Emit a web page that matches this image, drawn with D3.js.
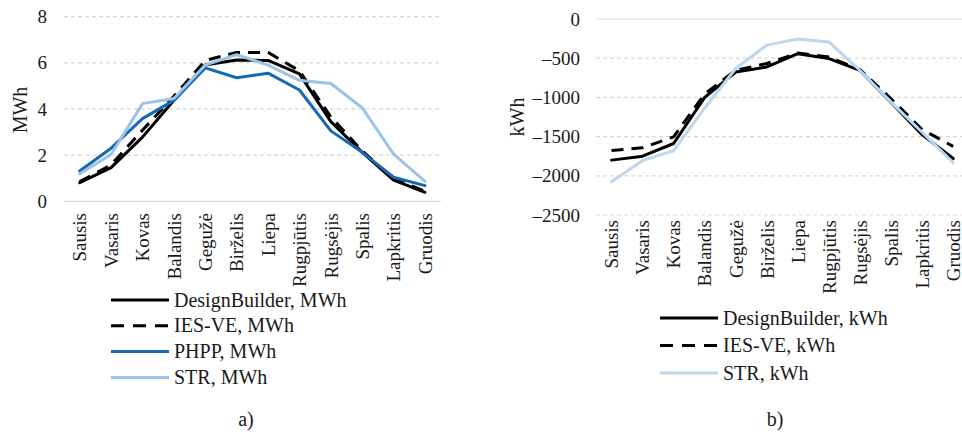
<!DOCTYPE html>
<html>
<head>
<meta charset="utf-8">
<script src="https://cdn.jsdelivr.net/npm/d3@7"></script>
<style>
  html, body { margin: 0; padding: 0; background: #fff; }
  svg { display: block; }
  #chart text { font-family: "Liberation Serif", serif !important; }
</style>
</head>
<body>
<svg id="chart" width="962" height="434"></svg>
<script>
// Month categories shared by both panels
const months = ["Sausis", "Vasaris", "Kovas", "Balandis", "Gegužė", "Birželis",
                "Liepa", "Rugpjūtis", "Rugsėjis", "Spalis", "Lapkritis", "Gruodis"];

// Panel a) monthly energy, MWh
const heatDesignBuilder = [0.81, 1.46, 2.78, 4.38, 5.90, 6.12, 6.10, 5.52, 3.45, 2.12, 0.92, 0.39];
const heatIESVE         = [0.85, 1.58, 3.08, 4.55, 6.10, 6.45, 6.45, 5.65, 3.66, 2.18, 0.97, 0.44];
const heatPHPP          = [1.31, 2.30, 3.58, 4.37, 5.78, 5.35, 5.55, 4.82, 3.05, 2.12, 1.04, 0.68];
const heatSTR           = [1.19, 2.03, 4.23, 4.45, 5.90, 6.35, 5.90, 5.24, 5.10, 4.05, 2.04, 0.86];
const heatTicks = [0, 2, 4, 6, 8];

// Panel b) monthly energy, kWh
const coolDesignBuilder = [-1800, -1750, -1588, -1000, -676, -612, -442, -505, -655, -1065, -1475, -1780];
const coolIESVE         = [-1676, -1643, -1503, -955, -654, -568, -435, -485, -645, -1017, -1410, -1625];
const coolSTR           = [-2076, -1804, -1680, -1135, -632, -333, -254, -292, -657, -1060, -1445, -1832];
const coolTicks = [0, -500, -1000, -1500, -2000, -2500];

const FONT = "Liberation Serif";
const TEXT = "#1a1a1a";

const svg = d3.select("#chart");

const styles = {
  db:   { color: "#000000", dash: null },
  ies:  { color: "#000000", dash: "12,8" },
  phpp: { color: "#1769b3", dash: null },
  strA: { color: "#9dc3e6", dash: null },
  strB: { color: "#bdd7ee", dash: null }
};

function setFont(sel, size) {
  sel.attr("font-family", null)
     .style("font-family", FONT)
     .style("font-size", size + "px")
     .attr("fill", TEXT);
}

function panel(cfg) {
  const g = svg.append("g");
  const x = d3.scalePoint().domain(months).range(cfg.xRange).padding(0.5);
  const y = d3.scaleLinear().domain(cfg.yDomain).range(cfg.yRange);

  // horizontal gridlines
  g.selectAll("line.grid").data(cfg.ticks).join("line")
    .attr("x1", cfg.xRange[0]).attr("x2", Math.min(cfg.xRange[1], 962))
    .attr("y1", d => y(d)).attr("y2", d => y(d))
    .attr("stroke", "#d9d9d9").attr("stroke-width", 1.2)
    .attr("stroke-dasharray", d => d === cfg.solidAt ? null : "4,3");

  // y axis labels
  const yAxis = d3.axisLeft(y).tickValues(cfg.ticks).tickSize(0).tickPadding(0)
    .tickFormat(d => d < 0 ? "\u2013" + Math.abs(d) : String(d));
  const ya = g.append("g").attr("transform", `translate(${cfg.tickX},0)`).call(yAxis);
  ya.attr("font-family", null).attr("font-size", null);
  ya.select(".domain").remove();
  setFont(ya.selectAll("text"), 19);

  // x category labels (rotated)
  const xAxis = d3.axisBottom(x).tickSize(0).tickPadding(0);
  const xa = g.append("g").attr("transform", `translate(0,${cfg.catY})`).call(xAxis);
  xa.attr("font-family", null).attr("font-size", null);
  xa.select(".domain").remove();
  setFont(xa.selectAll("text"), 19);
  xa.selectAll("text")
    .attr("text-anchor", "end")
    .attr("transform", "rotate(-90)")
    .attr("x", 0).attr("y", 0).attr("dy", "0.33em");

  // axis title
  setFont(g.append("text")
    .attr("transform", `translate(${cfg.titleX},${cfg.titleY}) rotate(-90)`)
    .attr("text-anchor", "middle").attr("dy", "0.33em")
    .text(cfg.title), 20);

  // series lines
  const line = d3.line().x((d, i) => x(months[i])).y(d => y(d));
  cfg.series.forEach(s => {
    g.append("path").datum(s.values)
      .attr("d", line)
      .attr("fill", "none")
      .attr("stroke", s.style.color)
      .attr("stroke-width", 3)
      .attr("stroke-linejoin", "round")
      .attr("stroke-linecap", s.style.dash ? "butt" : "round")
      .attr("stroke-dasharray", s.style.dash);
  });

  // legend
  const lg = g.append("g");
  cfg.series.forEach((s, i) => {
    const yy = cfg.legendY + i * cfg.legendStep;
    lg.append("line")
      .attr("x1", cfg.legendX).attr("x2", cfg.legendX + 58)
      .attr("y1", yy).attr("y2", yy)
      .attr("stroke", s.style.color).attr("stroke-width", 3)
      .attr("stroke-dasharray", s.style.dash ? "13,9" : null);
    setFont(lg.append("text")
      .attr("x", cfg.legendX + 63).attr("y", yy).attr("dy", "0.33em")
      .text(s.name), 20);
  });

  // panel caption
  setFont(g.append("text")
    .attr("x", cfg.capX).attr("y", cfg.capY).attr("dy", "0.33em")
    .attr("text-anchor", "middle")
    .text(cfg.caption), 20);
}

panel({
  xRange: [64, 440.7],
  yDomain: [0, 8], yRange: [201.3, 16.6],
  ticks: heatTicks, solidAt: 0,
  tickX: 47, catY: 213,
  title: "MWh", titleX: 20, titleY: 110,
  series: [
    { name: "DesignBuilder, MWh", values: heatDesignBuilder, style: styles.db },
    { name: "IES-VE, MWh", values: heatIESVE, style: styles.ies },
    { name: "PHPP, MWh", values: heatPHPP, style: styles.phpp },
    { name: "STR, MWh", values: heatSTR, style: styles.strA }
  ],
  legendX: 111, legendY: 300, legendStep: 25.8,
  caption: "a)", capX: 246, capY: 419
});

panel({
  xRange: [596, 968.7],
  yDomain: [-2500, 0], yRange: [215, 19],
  ticks: coolTicks, solidAt: 0,
  tickX: 580, catY: 220,
  title: "kWh", titleX: 517, titleY: 117,
  series: [
    { name: "DesignBuilder, kWh", values: coolDesignBuilder, style: styles.db },
    { name: "IES-VE, kWh", values: coolIESVE, style: styles.ies },
    { name: "STR, kWh", values: coolSTR, style: styles.strB }
  ],
  legendX: 660, legendY: 318, legendStep: 27.5,
  caption: "b)", capX: 775, capY: 419
});
</script>
</body>
</html>
